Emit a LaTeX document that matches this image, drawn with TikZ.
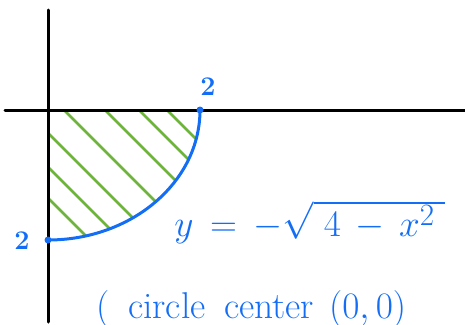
\documentclass[tikz,border=0pt]{standalone}
\usepackage{amsmath, amssymb}
\usepackage{tikz}
\usetikzlibrary{calc}
\usepackage{xcolor}
\definecolor{penblue}{RGB}{20,110,245}
\definecolor{hatchgreen}{RGB}{110,180,60}

\begin{document}
\begin{tikzpicture}[x=1pt, y=-1pt, line cap=round,
    pen/.style={penblue, line width=3pt},
    hatch/.style={hatchgreen, line width=2.5pt},
    axis/.style={black, line width=3pt},
    inktext/.style={text=penblue, font=\Huge, scale=1.5, inner sep=0pt},
    smallink/.style={text=penblue, font=\huge\boldmath, scale=1.3}]
  \useasboundingbox (0,0) rectangle (465,324);
  \coordinate (O) at (48,110);
  \coordinate (A) at (200,110);
  \coordinate (B) at (48,240);
  % shaded quarter
  \begin{scope}
    \clip (O) -- (A) arc[start angle=0, end angle=90, x radius=152, y radius=130] -- cycle;
    \foreach \s in {-40,-9,25,64,105,139,167}
      \draw[hatch] (\s,110) -- ++(200,200);
  \end{scope}
  % axes
  \draw[axis] (5,110) -- (465,110);
  \draw[axis] (48,10) -- (48,322);
  % y = -sqrt(4-x^2)
  \draw[pen] (A) arc[start angle=0, end angle=90, x radius=152, y radius=130];
  \fill[penblue] (A) circle (3.5);
  \fill[penblue] (B) circle (3.5);
  \node[smallink] (xtwo) at (208,87) {$2$};
  \node[smallink] (ytwo) at (22,241) {$2$};
  \node[inktext, anchor=west] (curve) at (174,222)
    {$y \,=\, -\sqrt{\;4 \,-\, x^2\;}$};
  \node[inktext, anchor=base west] (note) at (96,318)
    {(\hspace{0.5em}circle\hspace{0.5em}center\hspace{0.4em}$(0,0)$};
\end{tikzpicture}
\end{document}
